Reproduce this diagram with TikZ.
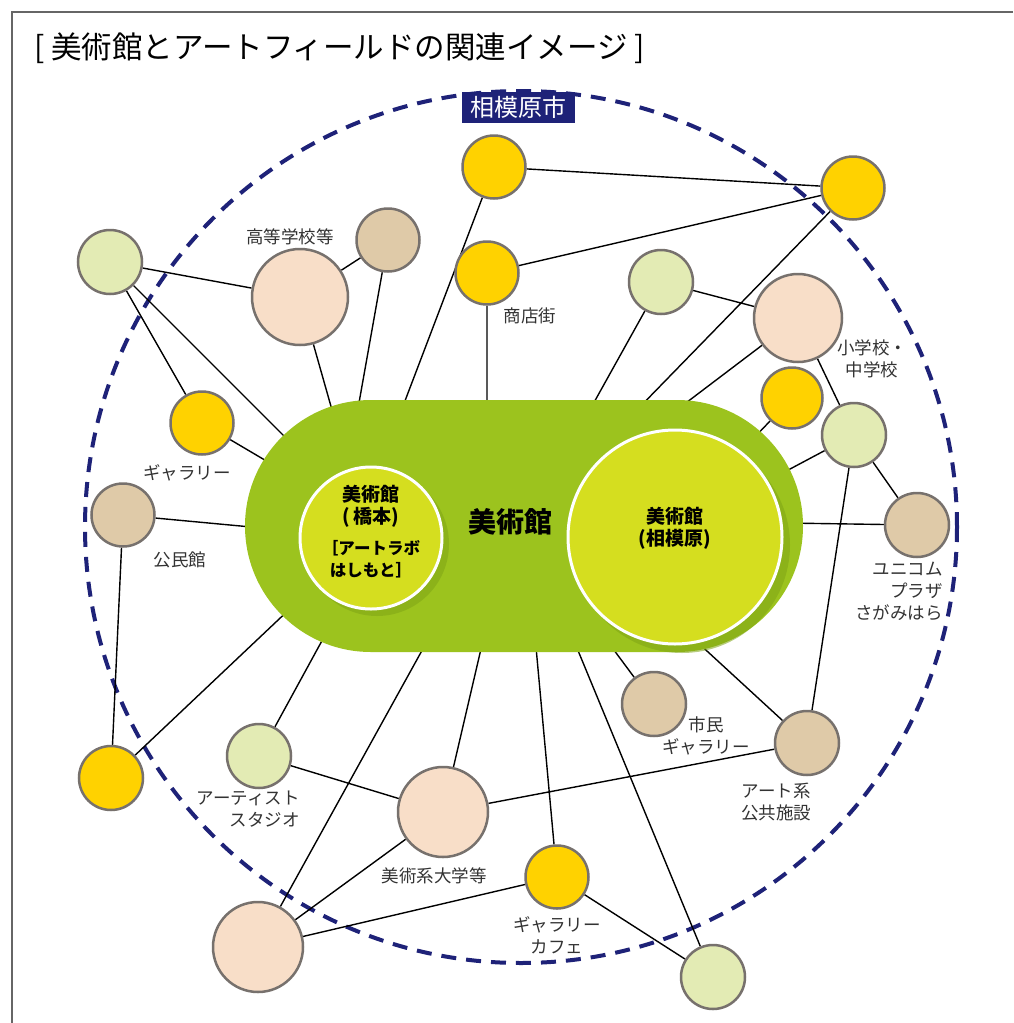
\documentclass[tikz,border=0pt]{standalone}
\usepackage{fontspec}
\setmainfont{Noto Sans CJK JP}
\usetikzlibrary{shapes.misc}
\definecolor{cyel}{HTML}{FFD200}
\definecolor{clg}{HTML}{E3EBB4}
\definecolor{cpeach}{HTML}{F8DEC8}
\definecolor{ctan}{HTML}{DFCAA8}
\definecolor{cring}{HTML}{77716D}
\definecolor{cnavy}{HTML}{1E2278}
\definecolor{ccap}{HTML}{9CC31E}
\definecolor{ccapdark}{HTML}{7FA516}
\definecolor{cinner}{HTML}{D5DE1F}
\definecolor{ctext}{HTML}{333333}
\definecolor{cframe}{HTML}{666666}
\pgfdeclarelayer{back}
\pgfdeclarelayer{bg}
\pgfsetlayers{back,bg,main}
\begin{document}
\begin{tikzpicture}[x=1pt,y=-1pt,
  spot/.style={circle,draw=cring,line width=2.5pt,inner sep=0pt},
  yel/.style={spot,fill=cyel,minimum size=63pt},
  lgr/.style={spot,fill=clg,minimum size=64pt},
  tanc/.style={spot,fill=ctan,minimum size=63pt},
  pch/.style={spot,fill=cpeach,minimum size=#1},
  lbl/.style={text=ctext,font=\fontsize{17.5}{22}\selectfont,align=center,inner sep=0pt},
  edge/.style={line width=1.4pt,black},
  inner/.style={circle,fill=cinner,draw=white,line width=3pt,inner sep=0pt}]
\useasboundingbox (0,0) rectangle (1013,1023);
\begin{pgfonlayer}{back}
\fill[white] (0,0) rectangle (1013,1023);
\draw[cnavy,line width=4pt,dash pattern=on 15pt off 10pt] (521,527) circle (436);
\end{pgfonlayer}
% frame
\draw[cframe,line width=1.5pt] (1013,12) -- (12,12) -- (12,1023);
% title
\node[anchor=west,inner sep=0pt,font=\fontsize{30.5}{34}\selectfont,text=black] (title) at (34,48) {[ 美術館とアートフィールドの関連イメージ ]};
\node[fill=cnavy,text=white,font=\fontsize{24}{28}\selectfont,minimum width=113pt,minimum height=31pt,inner sep=0pt] (city) at (518,107) {相模原市};
% museum capsule
\node[rounded rectangle,fill=ccap,minimum width=558pt,minimum height=252pt,inner sep=0pt] (mus) at (524,526) {};
\fill[ccapdark,opacity=0.55] (682,545) circle (108);
\fill[ccapdark,opacity=0.55] (377,544) circle (72);
\node[inner,minimum size=214pt] (sag) at (675,537) {};
\node[inner,minimum size=142pt] (hashi) at (371,538) {};
\node[font=\bfseries\fontsize{28}{32}\selectfont,inner sep=0pt] (mustxt) at (510,522) {美術館};
\node[font=\bfseries\fontsize{19}{22}\selectfont,align=center,inner sep=0pt] (hashitxt) at (371,506) {美術館\\(\,橋本)};
\node[font=\bfseries\fontsize{16.5}{22}\selectfont,align=center,inner sep=0pt] (labtxt) at (371,559) {［アートラボ\\はしもと］};
\node[font=\bfseries\fontsize{19}{22}\selectfont,align=center,inner sep=0pt] (sagtxt) at (675,528) {美術館\\(相模原)};
% field nodes
\node[lgr] (A) at (110,262) {};
\node[pch=96pt] (B) at (300,297) {};
\node[tanc] (C) at (388,240) {};
\node[yel] (D) at (202,423) {};
\node[tanc] (E) at (123,515) {};
\node[yel] (F) at (494,167) {};
\node[yel] (G) at (487,273) {};
\node[yel] (H) at (853,188) {};
\node[lgr] (I) at (661,282) {};
\node[pch=88pt] (J) at (798,318) {};
\node[yel,minimum size=61pt] (K) at (792,398) {};
\node[lgr] (L) at (854,435) {};
\node[tanc,minimum size=64pt] (M) at (917,525) {};
\node[yel,minimum size=64pt] (N) at (111,778) {};
\node[lgr] (O) at (259,756) {};
\node[pch=90pt] (P) at (443,812) {};
\node[pch=90pt] (Q) at (258,947) {};
\node[yel] (R) at (557,877) {};
\node[lgr] (S) at (713,977) {};
\node[tanc,minimum size=64pt] (T) at (654,704) {};
\node[tanc,minimum size=64pt] (U) at (807,743) {};
% capsule attachment points
\coordinate (cA) at (300,452);
\coordinate (cD) at (280,469);
\coordinate (cB) at (334,417);
\coordinate (cC) at (357,414);
\coordinate (cF) at (400,414);
\coordinate (cG) at (487,414);
\coordinate (cE) at (262,528);
\coordinate (cN) at (295,604);
\coordinate (cO) at (324,637);
\coordinate (cQ) at (430,636);
\coordinate (cP) at (484,636);
\coordinate (cR) at (535,636);
\coordinate (cS) at (572,636);
\coordinate (cT) at (605,638);
\coordinate (cU) at (695,640);
\coordinate (cH) at (632,415);
\coordinate (cI) at (587,415);
\coordinate (cJ) at (670,415);
\coordinate (cK) at (750,442);
\coordinate (cL) at (775,477);
\coordinate (cM) at (785,523);
% connectors
\begin{pgfonlayer}{bg}
\draw[edge] (A)--(B) (A)--(D) (A)--(cA) (D)--(cD) (B)--(cB) (C)--(B) (C)--(cC)
  (F)--(cF) (E)--(cE) (E)--(N) (N)--(cN) (O)--(cO) (O)--(P) (Q)--(cQ) (Q)--(P)
  (Q)--(R) (P)--(cP) (P)--(U) (R)--(cR) (R)--(S) (S)--(cS) (T)--(cT) (U)--(cU)
  (U)--(L) (H)--(F) (H)--(G) (H)--(cH) (G)--(cG) (I)--(cI) (I)--(J) (J)--(cJ)
  (J)--(L) (K)--(cK) (L)--(cL) (L)--(M) (M)--(cM);
\end{pgfonlayer}
% labels
\node[lbl] (lB) at (290,237) {高等学校等};
\node[lbl] (lD) at (187,473) {ギャラリー};
\node[lbl] (lE) at (180,560) {公民館};
\node[lbl] (lG) at (530,316) {商店街};
\node[lbl] (lJ) at (872,359) {小学校・\\中学校};
\node[lbl,align=right,anchor=east] (lM) at (943,591) {ユニコム\\プラザ\\さがみはら};
\node[lbl] (lT) at (706,736) {市民\\ギャラリー};
\node[lbl] (lU) at (776,802) {アート系\\公共施設};
\node[lbl,align=right,anchor=east] (lO) at (300,809) {アーティスト\\スタジオ};
\node[lbl] (lP) at (434,876) {美術系大学等};
\node[lbl] (lR) at (557,935) {ギャラリー\\カフェ};
\end{tikzpicture}
\end{document}
